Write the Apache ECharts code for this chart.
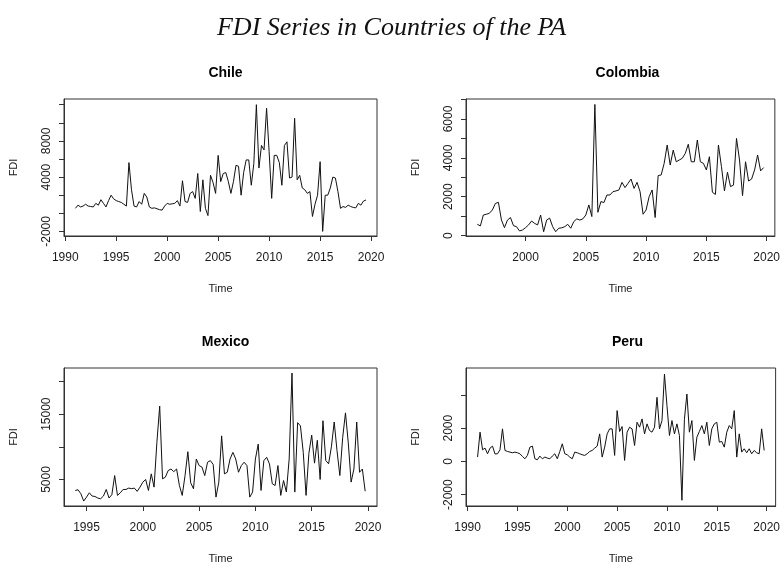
<!DOCTYPE html>
<html>
<head>
<meta charset="utf-8">
<title>FDI Series in Countries of the PA</title>
<script src="https://cdn.jsdelivr.net/npm/echarts@6/dist/echarts.min.js"></script>
<style>
  html, body { margin: 0; padding: 0; background: #fff; }
  #chart { width: 783px; height: 565px; }
</style>
</head>
<body>
<div id="chart"></div>
<script>
// quarterly FDI
const chileStart = 1991
const chileFDI = [
  550, 900, 700, 800, 1000, 800, 750, 700, 1100, 900, 1500, 1100,
  700, 1400, 2000, 1600, 1400, 1300, 1200, 1000, 800, 5600, 2600, 800,
  700, 1300, 1000, 2200, 1800, 700, 550, 600, 500, 400, 350, 800,
  1100, 1000, 1050, 1100, 1400, 800, 3600, 1300, 1200, 2200, 2400, 1650,
  4400, 200, 3700, 550, -250, 4200, 3400, 2200, 6400, 3500, 4400, 4500,
  3500, 2200, 3500, 5300, 5200, 2000, 4500, 5900, 5900, 3100, 5500, 12000,
  5000, 7500, 7000, 11600, 6800, 1650, 6400, 6400, 5600, 3100, 7500, 7900,
  3900, 4000, 10500, 3700, 4200, 2800, 2600, 2200, 2400, -350, 1000, 2000,
  5700, -2000, 2000, 2000, 2800, 4000, 3900, 2400, 550, 750, 650, 900,
  750, 650, 600, 1100, 900, 1350, 1470
]

const colombiaStart = 1996
const colombiaFDI = [
  580, 500, 1060, 1100, 1150, 1320, 1660, 1710, 800, 410, 800, 930,
  510, 460, 240, 290, 410, 550, 750, 630, 550, 1060, 200, 800,
  900, 460, 200, 380, 400, 460, 580, 380, 720, 860, 800, 860,
  1060, 1580, 980, 6750, 1200, 1750, 1700, 2090, 2090, 2260, 2300, 2350,
  2740, 2470, 2690, 2910, 2430, 2740, 2260, 1100, 1320, 2000, 2350, 930,
  3090, 3120, 3720, 4660, 3630, 4400, 3800, 3890, 3980, 4230, 4700, 3800,
  3800, 4920, 3800, 3720, 3380, 4060, 2230, 2120, 4660, 3550, 2300, 3260,
  2520, 2600, 5000, 3890, 2060, 3800, 2810, 2910, 3380, 4150, 3330, 3500
]

const mexicoStart = 1994
const mexicoFDI = [
  3320, 3420, 2810, 1700, 2300, 2960, 2460, 2400, 2160, 2050, 2460, 3470,
  2160, 2670, 5600, 2560, 2960, 3470, 3470, 3680, 3600, 3680, 3180, 3830,
  4590, 5000, 3320, 5860, 3830, 10670, 16240, 5100, 5350, 6360, 6610, 6200,
  6610, 4080, 2560, 5600, 9250, 4500, 3580, 8140, 7130, 6900, 5600, 7640,
  7890, 7300, 2300, 4590, 11680, 5860, 6110, 8140, 9150, 8140, 6110, 7130,
  7640, 7130, 2300, 3070, 8140, 10420, 3320, 7890, 8400, 7380, 4340, 4080,
  7130, 2560, 4840, 3080, 8140, 21300, 3070, 13700, 13200, 9150, 2560, 9000,
  11800, 7500, 11000, 5000, 14000, 7900, 7400, 10000, 13800, 9400, 5600, 11400,
  15200, 10600, 4600, 6600, 13800, 6100, 6600, 3200
]

const peruStart = 1991
const peruFDI = [
  260, 1760, 700, 800, 460, 800, 920, 450, 460, 700, 1960, 660,
  600, 560, 520, 560, 520, 460, 300, 160, 360, 860, 920, 160,
  100, 320, 160, 260, 200, 160, 320, 460, 160, 600, 1060, 460,
  400, 260, 160, 560, 520, 460, 400, 360, 460, 600, 660, 800,
  920, 1660, 260, 860, 1660, 1960, 1960, 360, 3060, 1800, 2100, 60,
  1760, 2060, 1960, 960, 2360, 2060, 2560, 1660, 2260, 1860, 1760, 2060,
  3860, 1960, 2460, 5260, 3360, 1560, 2460, 1660, 2260, 1560, -2340, 2540,
  4060, 1760, 2460, 60, 1460, 1800, 2160, 1660, 2360, 960, 1960, 2260,
  2360, 1160, 1200, 860, 1760, 2160, 1960, 3060, 260, 1660, 560, 760,
  520, 760, 460, 660, 520, 460, 1960, 660
]

// tick marks and which of them carry labels (R drops the crowded ones)
const chileYTicks = [-2000, 0, 2000, 4000, 6000, 8000, 10000, 12000]
const chileYLabels = [-2000, 4000, 8000]
const colombiaYTicks = [0, 1000, 2000, 3000, 4000, 5000, 6000, 7000]
const colombiaYLabels = [0, 2000, 4000, 6000]
const mexicoYTicks = [5000, 10000, 15000, 20000]
const mexicoYLabels = [5000, 15000]
const peruYTicks = [-2000, 0, 2000, 4000]
const peruYLabels = [-2000, 0, 2000]

const years1990 = [1990, 1995, 2000, 2005, 2010, 2015, 2020]
const years1995 = [1995, 2000, 2005, 2010, 2015, 2020]
const years2000 = [2000, 2005, 2010, 2015, 2020]

const panels = [
  { name: 'Chile', start: chileStart, values: chileFDI, xTicks: years1990,
    yTicks: chileYTicks, yLabels: chileYLabels,
    box: { left: 64, top: 99, width: 313, height: 137 },
    xRange: [1989.88, 2020.58], yRange: [-2508, 12630] },
  { name: 'Colombia', start: colombiaStart, values: colombiaFDI, xTicks: years2000,
    yTicks: colombiaYTicks, yLabels: colombiaYLabels,
    box: { left: 466, top: 99, width: 313, height: 137 },
    xRange: [1995.06, 2020.68], yRange: [-20, 7030] },
  { name: 'Mexico', start: mexicoStart, values: mexicoFDI, xTicks: years1995,
    yTicks: mexicoYTicks, yLabels: mexicoYLabels,
    box: { left: 64, top: 368, width: 313, height: 139 },
    xRange: [1993.0, 2020.8], yRange: [940, 22070] },
  { name: 'Peru', start: peruStart, values: peruFDI, xTicks: years1990,
    yTicks: peruYTicks, yLabels: peruYLabels,
    box: { left: 466, top: 368, width: 313, height: 139 },
    xRange: [1989.84, 2020.9], yRange: [-2685, 5625] }
]

const FONT = 'Liberation Sans'
const INK = '#1a1a1a'

const chart = echarts.init(document.getElementById('chart'), null, { renderer: 'canvas' })

const titles = [{
  text: 'FDI Series in Countries of the PA',
  left: 'center',
  top: 10,
  textStyle: { fontFamily: 'Liberation Serif', fontStyle: 'italic', fontWeight: 'normal', fontSize: 26, color: '#111' }
}]
const grids = []
const xAxes = []
const yAxes = []
const series = []

panels.forEach((p, i) => {
  titles.push({
    text: p.name,
    left: p.box.left + p.box.width / 2,
    top: p.box.top - 38,
    textAlign: 'center',
    textStyle: { fontFamily: FONT, fontWeight: 'bold', fontSize: 14, color: '#000' }
  })
  grids.push({
    left: p.box.left, top: p.box.top, width: p.box.width, height: p.box.height,
    show: true, borderColor: '#333', borderWidth: 1, backgroundColor: 'transparent'
  })
  xAxes.push({
    type: 'value', gridIndex: i, min: p.xRange[0], max: p.xRange[1],
    name: 'Time', nameLocation: 'middle', nameGap: 47,
    nameTextStyle: { fontFamily: FONT, fontSize: 11, color: INK },
    axisLine: { show: true, onZero: false, lineStyle: { color: '#333', width: 1 } },
    axisTick: { show: true, customValues: p.xTicks, length: 5, lineStyle: { color: '#333' } },
    axisLabel: { customValues: p.xTicks, formatter: v => String(v), margin: 16,
      fontFamily: FONT, fontSize: 12, color: INK },
    splitLine: { show: false }
  })
  yAxes.push({
    type: 'value', gridIndex: i, min: p.yRange[0], max: p.yRange[1],
    name: 'FDI', nameLocation: 'middle', nameGap: 45, nameRotate: 90,
    nameTextStyle: { fontFamily: FONT, fontSize: 11, color: INK },
    axisLine: { show: true, onZero: false, lineStyle: { color: '#333', width: 1 } },
    axisTick: { show: true, customValues: p.yTicks, length: 5, lineStyle: { color: '#333' } },
    axisLabel: { customValues: p.yLabels, formatter: v => String(v), rotate: 90, margin: 11,
      fontFamily: FONT, fontSize: 12, color: INK },
    splitLine: { show: false }
  })
  series.push({
    type: 'line', xAxisIndex: i, yAxisIndex: i,
    data: p.values.map((v, k) => [p.start + k / 4, v]),
    showSymbol: false, symbol: 'none',
    lineStyle: { color: '#111', width: 1 },
    silent: true
  })
})

chart.setOption({
  animation: false,
  backgroundColor: '#fff',
  title: titles,
  grid: grids,
  xAxis: xAxes,
  yAxis: yAxes,
  series: series
})
</script>
</body>
</html>
